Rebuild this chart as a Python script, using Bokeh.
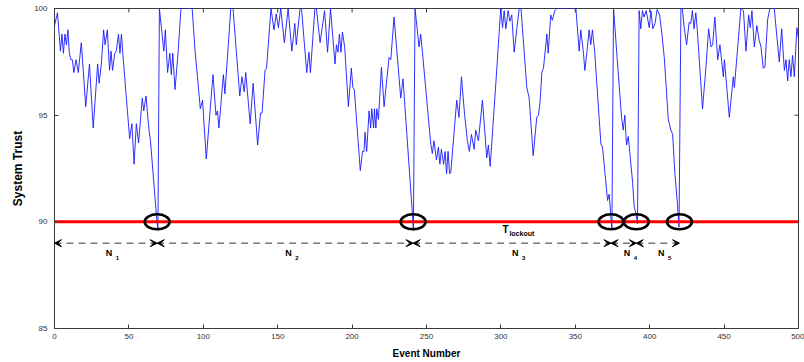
import math

from bokeh.plotting import figure
from bokeh.models import Range1d, FixedTicker, Arrow, VeeHead
from bokeh.core.properties import value
from bokeh.embed import file_html
from bokeh.resources import INLINE

# System trust after each event (vertices of the trace)
event = [
    0, 2, 4, 5, 6, 7, 8, 9, 10, 11, 12, 13, 14.5, 16, 18, 21, 23.5, 26, 29, 30,
    31.5, 33, 34, 35.5, 37, 38, 39, 40.5, 41.5, 43, 44, 45, 46, 50.5, 52, 53.5,
    55, 56.5, 59, 60, 61.5, 63.5, 64.5, 68.5, 69.5, 70.5, 73.5, 74.5, 76, 77.5,
    78.5, 79.5, 81, 83, 85, 92.5, 94.5, 98, 99.5, 102, 106.5, 108.5, 109.5, 110.5,
    113.5, 114.5, 118.5, 120, 124.5, 126, 127.5, 128.5, 131.5, 133.5, 136.5,
    138.5, 139.5, 141.5, 142.5, 145.5, 147.5, 149, 150.5, 152, 154.5, 157, 159.5,
    161.5, 162.5, 165, 166, 169.5, 171, 172, 175, 176, 178.5, 181.5, 183.5, 185.5,
    188.5, 189.5, 190.5, 191.5, 192.5, 193.5, 195, 197.5, 199.5, 200.5, 201.5,
    205.5, 207, 208, 208.7, 209.8, 211.4, 212.5, 213.2, 214.5, 215, 216, 216.6,
    217.7, 219.7, 221.5, 224.8, 226, 228.2, 232.7, 234.2, 240.5, 241.2, 242.3,
    245, 246.1, 247.2, 252.8, 253.9, 255, 256.7, 258, 259, 260, 261.5, 262.5,
    263.5, 264.5, 265.5, 266.3, 270.3, 271.8, 273.5, 275.5, 277.5, 278.8, 280.2,
    282, 283.1, 284.9, 287.6, 290.5, 291.6, 292.8, 296.6, 299.9, 301.1, 302.2,
    303.3, 304.9, 306, 307.3, 308.9, 310.7, 312.3, 313.5, 317.4, 319, 321.7,
    324.1, 325.2, 326.3, 327.5, 328.6, 330.9, 331.8, 333.5, 334.6, 336.2, 337.5,
    350.4, 352.6, 353.7, 355.5, 356.4, 357.7, 359.3, 360.4, 361.5, 363, 367.2,
    368.3, 371.7, 372.8, 373.9, 374.6, 375.7, 378.5, 381.1, 382.2, 383.3, 384.4,
    385.6, 386.7, 388.5, 389.6, 390.7, 391.8, 392.9, 394, 395.1, 396.2, 397.6,
    399.7, 400.8, 402.1, 403.6, 405, 406.7, 408.2, 409.8, 412.5, 414.2, 415.4,
    417, 418.7, 419.7, 421, 422, 423, 424.8, 426.5, 427.6, 428.7, 429.8, 431,
    432, 435.5, 437.8, 439.6, 441.2, 442.3, 443.8, 445.7, 447.2, 449.5, 450.2,
    453.5, 456.2, 456.9, 461.3, 463, 464.7, 466.5, 467.6, 468.7, 470.3, 472,
    473.6, 474.8, 476.3, 477.4, 479.3, 480.8, 483.7, 486, 487.1, 488.7, 490.5,
    491.6, 492.7, 493.8, 494.9, 496, 497.2, 498.9, 500,
]
trust = [
    99.2, 99.8, 98.0, 98.8, 97.9, 98.8, 98.3, 99.0, 97.9, 97.6, 97.6, 97.0, 97.6,
    97.0, 98.4, 95.4, 97.4, 94.4, 97.4, 96.5, 97.4, 99.0, 98.3, 99.0, 97.1, 98.0,
    97.1, 97.9, 98.0, 98.8, 97.9, 98.8, 97.8, 93.9, 94.6, 92.7, 94.6, 93.7, 95.8,
    95.2, 95.9, 94.3, 93.8, 90.3, 89.6, 100, 98.0, 99.0, 97.0, 97.9, 96.9, 97.9,
    96.2, 97.9, 100, 100, 98.0, 95.3, 95.7, 92.95, 96.9, 95.0, 95.2, 94.4, 96.9,
    96.0, 100, 100, 95.9, 96.8, 96.1, 97.0, 94.6, 96.5, 93.6, 95.1, 95.1, 97.1,
    97.2, 100, 99.0, 99.75, 99.1, 100, 98.4, 100, 98.0, 99.3, 98.3, 100, 100,
    97.0, 97.95, 97.0, 100, 100, 98.4, 99.9, 97.95, 100, 97.4, 98.3, 97.95, 98.8,
    97.95, 98.9, 98.2, 95.4, 97.2, 96.3, 96.2, 92.4, 93.3, 93.3, 94.2, 93.3,
    95.2, 94.4, 95.3, 94.4, 95.3, 94.4, 95.3, 94.8, 97.25, 95.4, 97.7, 97.6,
    99.6, 95.8, 96.7, 90.4, 89.6, 100, 98.2, 98.8, 98.0, 93.7, 93.2, 93.8, 92.9,
    93.5, 92.7, 93.4, 92.7, 93.3, 92.25, 93.3, 92.25, 92.3, 95.7, 94.9, 96.8,
    95.1, 93.8, 93.3, 94.1, 93.4, 94.3, 93.8, 95.7, 93.0, 93.6, 92.6, 96.5, 100,
    99.1, 99.9, 99.05, 99.9, 99.4, 99.7, 97.95, 99.05, 100, 100, 96.3, 95.8,
    93.1, 94.9, 95.0, 95.6, 97.0, 97.2, 98.8, 97.9, 99.7, 99.45, 99.9, 100, 100,
    98.0, 99.0, 97.9, 97.1, 97.9, 99.0, 98.3, 99.0, 98.0, 93.65, 93.5, 91.0, 91.3,
    90.2, 89.7, 100, 97.3, 94.9, 94.3, 95.0, 93.6, 94.0, 93.2, 91.85, 90.7, 90.4,
    89.9, 99.9, 99.05, 99.9, 99.6, 99.9, 99.1, 99.9, 99.05, 99.3, 99.95, 99.7,
    98.8, 97.7, 94.8, 94.3, 94.1, 92.2, 90.8, 89.75, 100, 100, 99.2, 98.3, 99.35,
    99.3, 99.9, 99.05, 99.8, 98.97, 95.3, 97.25, 99.05, 98.2, 98.3, 99.6, 97.6,
    98.3, 96.8, 97.6, 94.9, 96.8, 96.3, 100, 99.9, 98.0, 99.7, 99.1, 99.9, 98.2,
    99.2, 98.5, 98.2, 97.2, 97.25, 99.5, 100, 100, 98.3, 97.5, 99.05, 97.1, 97.6,
    96.6, 97.6, 96.8, 97.8, 96.8, 99.1, 98.6,
]

# Lockout threshold and the events at which trust fell to it
threshold = 90
lockout_events = [69, 241, 374, 391, 420]
interval_subscripts = ["1", "2", "3", "4", "5"]

x_ticks = [0, 50, 100, 150, 200, 250, 300, 350, 400, 450, 500]
y_ticks = [85, 90, 95, 100]

FONT = "Liberation Sans"
AXIS_GREY = "#3a3a3a"

p = figure(
    width=804, height=362,
    x_range=Range1d(0, 500), y_range=Range1d(85, 100),
    output_backend="svg", toolbar_location=None,
    min_border_left=54, min_border_right=6,
    min_border_top=8, min_border_bottom=34,
)
p.background_fill_color = "white"
p.border_fill_color = "white"
p.grid.visible = False
p.outline_line_color = AXIS_GREY
p.outline_line_width = 1

for ax, ticks in ((p.xaxis[0], x_ticks), (p.yaxis[0], y_ticks)):
    ax.ticker = FixedTicker(ticks=ticks)
    ax.major_tick_in = 4
    ax.major_tick_out = 0
    ax.minor_tick_line_color = None
    ax.axis_line_color = AXIS_GREY
    ax.major_tick_line_color = AXIS_GREY
    ax.major_label_text_font = FONT
    ax.major_label_text_font_size = "8px"
    ax.major_label_text_color = "#333333"
    ax.axis_label_text_font = FONT
    ax.axis_label_text_font_style = "bold"
    ax.axis_label_text_color = "black"

p.xaxis.axis_label = "Event Number"
p.xaxis.axis_label_text_font_size = "10px"
p.xaxis.major_label_standoff = 5
p.xaxis.axis_label_standoff = 6
p.yaxis.axis_label = "System Trust"
p.yaxis.axis_label_text_font_size = "12px"
p.yaxis.major_label_standoff = 7
p.yaxis.axis_label_standoff = 6

# mirrored inward ticks on the top and right edges (half of each dash
# falls outside the frame and is clipped away)
y_top, x_right = y_ticks[-1], x_ticks[-1]
p.scatter(x=x_ticks, y=[y_top] * len(x_ticks), marker="dash", size=8,
          angle=math.pi / 2, line_color=AXIS_GREY, line_width=1)
p.scatter(x=[x_right] * len(y_ticks), y=y_ticks, marker="dash", size=8,
          line_color=AXIS_GREY, line_width=1)

# trust trace
p.line(event, trust, line_color="#1a1aff", line_width=1, line_alpha=0.9)

# lockout threshold
p.line([x_ticks[0], x_ticks[-1]], [threshold, threshold],
       line_color="#ff0000", line_width=3)

# lockout events circled on the threshold
p.ellipse(x=lockout_events, y=[threshold] * len(lockout_events),
          width=16.8, height=0.7, fill_color=None,
          line_color="black", line_width=2.5)

# inter-lockout intervals N1..N5
bounds = [x_ticks[0]] + lockout_events
arrow_y = 89.0
for a, b in zip(bounds[:-1], bounds[1:]):
    p.add_layout(Arrow(
        x_start=a, y_start=arrow_y, x_end=b, y_end=arrow_y,
        line_color="#333333", line_width=1, line_dash="7 5",
        start=VeeHead(size=7, fill_color="black", line_color="black", line_width=1),
        end=VeeHead(size=7, fill_color="black", line_color="black", line_width=1),
    ))

mids = [(a + b) / 2 for a, b in zip(bounds[:-1], bounds[1:])]
label_y = [88.55] * len(mids)
p.text(x=mids, y=label_y, text=["N"] * len(mids),
       text_font=value(FONT), text_font_style="bold", text_font_size="9px",
       text_color="black", text_align="left", text_baseline="middle")
p.text(x=mids, y=label_y, text=interval_subscripts, x_offset=10, y_offset=5,
       text_font=value(FONT), text_font_style="bold", text_font_size="6px",
       text_color="black", text_align="left", text_baseline="middle")

# threshold name
p.text(x=[301], y=[89.64], text=["T"],
       text_font=value(FONT), text_font_style="bold", text_font_size="10px",
       text_color="black", text_align="left", text_baseline="middle")
p.text(x=[301], y=[89.64], text=["lockout"], x_offset=7, y_offset=4,
       text_font=value(FONT), text_font_style="bold", text_font_size="7px",
       text_color="black", text_align="left", text_baseline="middle")

open("out.html", "w").write(file_html(p, INLINE))
